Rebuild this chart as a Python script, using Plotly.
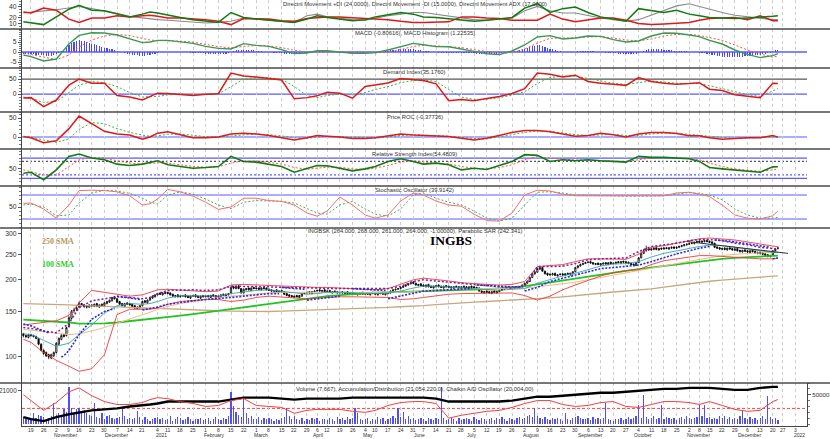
import pandas as pd
import plotly.graph_objects as go

SANS = "Liberation Sans"
SERIF = "Liberation Serif"
INK = "#303030"

# ---------------------------------------------------------------- dates
holidays = ["2020-11-11", "2020-12-24", "2020-12-25", "2020-12-31", "2021-01-01",
            "2021-01-06", "2021-04-02", "2021-04-05", "2021-05-03", "2021-06-03",
            "2021-11-01", "2021-11-11", "2021-12-24"]
days = [d.strftime("%Y-%m-%d") for d in pd.bdate_range("2020-10-14", "2021-12-22")
        if d.strftime("%Y-%m-%d") not in holidays]

# first trading day of each week (+ last day) : x of the weekly-read indicator values
weeks = ["2020-10-14", "2020-10-19", "2020-10-26", "2020-11-02", "2020-11-09", "2020-11-16",
         "2020-11-23", "2020-11-30", "2020-12-07", "2020-12-14", "2020-12-21", "2020-12-28",
         "2021-01-04", "2021-01-11", "2021-01-18", "2021-01-25", "2021-02-01", "2021-02-08",
         "2021-02-15", "2021-02-22", "2021-03-01", "2021-03-08", "2021-03-15", "2021-03-22",
         "2021-03-29", "2021-04-06", "2021-04-12", "2021-04-19", "2021-04-26", "2021-05-04",
         "2021-05-10", "2021-05-17", "2021-05-24", "2021-05-31", "2021-06-07", "2021-06-14",
         "2021-06-21", "2021-06-28", "2021-07-05", "2021-07-12", "2021-07-19", "2021-07-26",
         "2021-08-02", "2021-08-09", "2021-08-16", "2021-08-23", "2021-08-30", "2021-09-06",
         "2021-09-13", "2021-09-20", "2021-09-27", "2021-10-04", "2021-10-11", "2021-10-18",
         "2021-10-25", "2021-11-02", "2021-11-08", "2021-11-15", "2021-11-22", "2021-11-29",
         "2021-12-06", "2021-12-13", "2021-12-20", "2021-12-22"]

tick_dates = ["2020-10-19", "2020-10-26", "2020-11-02", "2020-11-09", "2020-11-16", "2020-11-23",
              "2020-11-30", "2020-12-07", "2020-12-14", "2020-12-21", "2021-01-04", "2021-01-11",
              "2021-01-18", "2021-01-25", "2021-02-01", "2021-02-08", "2021-02-15", "2021-02-22",
              "2021-03-01", "2021-03-08", "2021-03-15", "2021-03-22", "2021-03-29", "2021-04-06",
              "2021-04-12", "2021-04-19", "2021-04-26", "2021-05-04", "2021-05-10", "2021-05-17",
              "2021-05-24", "2021-05-31", "2021-06-07", "2021-06-14", "2021-06-21", "2021-06-28",
              "2021-07-05", "2021-07-12", "2021-07-19", "2021-07-26", "2021-08-02", "2021-08-09",
              "2021-08-16", "2021-08-23", "2021-08-30", "2021-09-06", "2021-09-13", "2021-09-20",
              "2021-09-27", "2021-10-04", "2021-10-11", "2021-10-18", "2021-10-25", "2021-11-02",
              "2021-11-08", "2021-11-15", "2021-11-22", "2021-11-29", "2021-12-06", "2021-12-13",
              "2021-12-20", "2021-12-27", "2022-01-03"]
tick_text = [str(pd.Timestamp(d).day) for d in tick_dates]

month_dates = ["2020-11-02", "2020-12-01", "2021-01-04", "2021-02-01", "2021-03-01", "2021-04-01",
               "2021-05-04", "2021-06-01", "2021-07-01", "2021-08-02", "2021-09-01", "2021-10-01",
               "2021-11-02", "2021-12-01", "2022-01-03"]
month_text = ["November", "December", "2021", "February", "March", "April", "May", "June", "July",
              "August", "September", "October", "November", "December", "2022"]

# ---------------------------------------------------------------- daily prices
p_open = [
    123, 121, 119,
    122, 121, 120, 118, 112,
    106, 104, 102, 99, 101,
    104, 112, 117, 122, 121,
    131, 141, 151, 153,
    156, 161, 159, 158, 156,
    159, 157, 161, 156, 160,
    158, 161, 163, 165, 171,
    168, 164, 161, 157, 162,
    161, 160, 158, 154, 155,
    158, 165, 162,
    166, 169, 171,
    174, 177, 174, 176,
    178, 177, 175, 171, 174,
    171, 172, 174, 172, 169,
    172, 174, 172, 169, 173,
    171, 173, 170, 174, 173,
    170, 171, 175, 172, 174,
    177, 187, 184, 188, 184,
    177, 182, 185, 181, 186,
    185, 185, 182, 186, 185,
    183, 182, 179, 182, 178,
    181, 179, 176, 174, 173,
    170, 173, 170, 172, 176,
    177, 179, 176, 179,
    180, 182, 179, 182,
    179, 181, 177, 180, 179,
    177, 179, 176, 179, 175,
    178, 177, 174, 175, 178,
    175, 177, 174, 178,
    177, 174, 176, 178, 174,
    176, 177, 180, 182, 183,
    184, 186, 188, 190, 192,
    195, 193, 189, 192,
    190, 187, 191, 188, 185,
    187, 190, 188, 185, 189,
    188, 187, 184, 188, 187,
    184, 188, 187, 184, 188,
    187, 186, 185, 180, 177,
    180, 179, 176, 180, 177,
    179, 181, 183, 185, 187,
    184, 185, 187, 185, 187,
    190, 193, 196, 203, 210,
    213, 219, 222, 215, 211,
    208, 208, 211, 206, 209,
    210, 207, 211, 208, 210,
    214, 222, 225, 228, 230,
    232, 234, 232, 228, 231,
    227, 229, 232, 228, 233,
    230, 230, 234, 231, 235,
    234, 233, 231, 229, 226,
    232, 242, 252, 258, 263,
    260, 261, 265, 260, 264,
    262, 265, 262, 264, 267,
    264, 266, 268, 270, 272,
    273, 276, 275, 278,
    281, 278, 280, 283,
    281, 279, 276, 267, 265,
    261, 264, 260, 265, 263,
    259, 263, 259, 255, 260,
    258, 254, 259, 257, 252,
    255, 253, 251, 249, 245,
    248, 258, 264,
]
p_high = [
    124, 122, 123,
    123, 122, 121, 118, 113,
    107, 105, 103, 103, 105,
    114, 119, 123, 123, 131,
    144, 152, 155, 157,
    164, 162, 160, 159, 160,
    160, 161, 162, 160, 161,
    163, 165, 167, 171, 172,
    169, 165, 162, 162, 163,
    162, 161, 159, 157, 159,
    165, 166, 167,
    171, 173, 175,
    177, 178, 178, 179,
    179, 178, 176, 174, 175,
    173, 174, 175, 173, 173,
    174, 175, 173, 173, 174,
    173, 174, 174, 175, 174,
    173, 175, 176, 176, 177,
    188, 189, 189, 190, 185,
    184, 185, 186, 186, 187,
    186, 186, 186, 187, 186,
    184, 183, 182, 183, 181,
    182, 180, 177, 175, 174,
    173, 174, 174, 177, 178,
    179, 180, 180, 181,
    182, 183, 182, 183,
    181, 182, 180, 181, 180,
    179, 180, 179, 180, 178,
    179, 178, 177, 178, 179,
    177, 178, 178, 179,
    178, 177, 178, 179, 177,
    178, 181, 183, 184, 185,
    187, 189, 191, 193, 196,
    197, 194, 192, 193,
    191, 191, 192, 189, 189,
    190, 191, 189, 189, 190,
    189, 188, 188, 189, 188,
    188, 189, 188, 188, 189,
    188, 187, 186, 181, 180,
    181, 180, 180, 181, 180,
    182, 184, 186, 187, 188,
    186, 187, 188, 188, 191,
    194, 198, 205, 212, 216,
    222, 224, 223, 216, 212,
    211, 212, 212, 209, 211,
    211, 211, 212, 212, 215,
    223, 227, 230, 232, 234,
    235, 236, 233, 231, 232,
    231, 232, 233, 233, 234,
    232, 234, 235, 235, 236,
    235, 234, 232, 230, 233,
    244, 256, 262, 270, 265,
    264, 266, 266, 264, 265,
    266, 267, 266, 268, 268,
    268, 270, 272, 274, 276,
    277, 279, 280, 283,
    283, 283, 284, 285,
    282, 281, 277, 268, 267,
    265, 266, 265, 266, 264,
    264, 264, 260, 260, 261,
    259, 259, 260, 258, 256,
    256, 254, 252, 250, 249,
    259, 264, 268,
]
p_low = [
    119, 118, 118,
    120, 119, 117, 111, 105,
    102, 100, 98, 98, 100,
    103, 111, 116, 119, 120,
    130, 140, 148, 151,
    155, 157, 155, 154, 155,
    156, 156, 156, 155, 157,
    157, 160, 162, 164, 167,
    162, 159, 157, 156, 159,
    158, 156, 153, 153, 154,
    157, 162, 161,
    165, 168, 170,
    173, 174, 173, 175,
    175, 173, 171, 170, 170,
    170, 171, 170, 169, 168,
    171, 170, 169, 168, 170,
    170, 170, 169, 171, 169,
    169, 170, 172, 171, 173,
    176, 183, 183, 183, 176,
    176, 181, 181, 180, 183,
    183, 182, 181, 183, 181,
    180, 179, 178, 178, 177,
    177, 174, 172, 171, 170,
    169, 170, 169, 171, 175,
    176, 176, 175, 178,
    179, 179, 178, 178,
    178, 177, 176, 177, 176,
    176, 176, 175, 175, 174,
    175, 174, 173, 174, 174,
    174, 174, 173, 175,
    174, 173, 175, 174, 173,
    175, 176, 179, 181, 182,
    183, 185, 187, 189, 191,
    192, 189, 188, 188,
    187, 186, 186, 185, 184,
    186, 186, 185, 184, 186,
    185, 184, 183, 185, 184,
    183, 185, 184, 183, 185,
    184, 183, 179, 177, 176,
    177, 176, 175, 177, 176,
    178, 180, 182, 184, 183,
    183, 184, 184, 184, 186,
    189, 192, 195, 202, 208,
    212, 217, 214, 209, 206,
    206, 207, 206, 205, 207,
    206, 206, 208, 207, 209,
    213, 220, 224, 227, 229,
    231, 230, 228, 227, 227,
    226, 228, 228, 227, 229,
    229, 229, 231, 230, 232,
    231, 229, 227, 225, 225,
    231, 241, 250, 256, 258,
    258, 259, 259, 258, 260,
    260, 262, 260, 262, 262,
    262, 264, 266, 268, 270,
    272, 273, 273, 276,
    277, 276, 278, 278,
    276, 274, 264, 262, 260,
    259, 259, 258, 260, 258,
    257, 256, 254, 254, 255,
    253, 252, 254, 251, 250,
    250, 248, 246, 243, 243,
    246, 256, 261,
]
p_close = [
    121, 120, 122,
    121, 120, 118, 112, 106,
    103, 101, 100, 102, 104,
    113, 118, 121, 120, 130,
    142, 150, 152, 155,
    162, 158, 157, 156, 159,
    158, 160, 157, 159, 158,
    162, 164, 166, 170, 168,
    163, 160, 158, 161, 160,
    159, 157, 155, 156, 158,
    164, 163, 166,
    170, 172, 174,
    176, 175, 177, 178,
    176, 174, 172, 173, 171,
    172, 173, 171, 170, 172,
    173, 171, 170, 172, 171,
    172, 171, 173, 172, 170,
    172, 174, 173, 175, 176,
    186, 185, 187, 184, 177,
    183, 184, 182, 185, 184,
    184, 183, 185, 184, 182,
    181, 180, 181, 179, 180,
    178, 175, 173, 172, 171,
    172, 171, 173, 176, 177,
    178, 177, 179, 180,
    181, 180, 181, 179,
    180, 178, 179, 178, 177,
    178, 177, 178, 176, 177,
    176, 175, 176, 177, 175,
    176, 175, 177, 176,
    175, 176, 177, 175, 176,
    177, 180, 182, 183, 184,
    186, 188, 190, 192, 194,
    193, 190, 191, 189,
    188, 190, 187, 186, 188,
    189, 187, 186, 188, 187,
    186, 185, 187, 186, 185,
    187, 186, 185, 187, 186,
    185, 184, 180, 178, 179,
    178, 177, 179, 178, 179,
    181, 183, 185, 186, 184,
    185, 186, 185, 187, 190,
    193, 196, 203, 210, 213,
    220, 222, 215, 210, 208,
    209, 210, 207, 208, 209,
    208, 210, 209, 211, 214,
    222, 225, 228, 230, 232,
    233, 231, 229, 230, 228,
    230, 231, 229, 232, 230,
    231, 233, 232, 234, 233,
    232, 230, 228, 227, 232,
    242, 252, 258, 262, 260,
    262, 264, 261, 263, 262,
    264, 263, 265, 266, 264,
    266, 268, 270, 272, 273,
    275, 276, 278, 280,
    279, 281, 282, 280,
    278, 276, 266, 264, 262,
    263, 261, 264, 262, 260,
    262, 258, 256, 259, 257,
    255, 258, 256, 253, 254,
    252, 250, 248, 246, 247,
    258, 262, 264,
]
# daily volume, thousands of shares
volume_k = [
    12, 8, 10,
    9, 18, 11, 15, 13,
    12, 8, 10, 14, 36,
    16, 19, 14, 25, 20,
    64, 28, 18, 26,
    28, 20, 24, 18, 16,
    14, 36, 12, 10, 18,
    9, 14, 16, 11, 8,
    10, 12, 28, 13, 9,
    11, 8, 10, 22, 12,
    7, 12, 9,
    6, 8, 10,
    12, 9, 11, 7,
    8, 14, 6, 9, 12,
    10, 7, 9, 12, 8,
    6, 9, 8, 11, 7,
    8, 10, 6, 9, 12,
    9, 7, 11, 8, 14,
    55, 31, 20, 16, 12,
    42, 18, 10, 14, 9,
    8, 12, 7, 10, 9,
    11, 8, 6, 9, 7,
    10, 12, 28, 14, 9,
    13, 8, 7, 10, 6,
    9, 7, 11, 8,
    10, 6, 8, 9,
    7, 11, 9, 6, 12,
    8, 10, 7, 12, 9,
    11, 28, 18, 9, 7,
    8, 10, 6, 9,
    7, 12, 8, 10, 6,
    9, 11, 14, 10, 28,
    12, 20, 9, 14, 8,
    10, 7, 9, 11,
    8, 6, 10, 9, 7,
    11, 8, 64, 10, 7,
    9, 12, 8, 6, 10,
    7, 9, 11, 8, 6,
    12, 9, 7, 10, 8,
    6, 9, 11, 7, 10,
    8, 12, 9, 6, 11,
    9, 7, 10, 12, 8,
    11, 14, 16, 12, 28,
    13, 10, 9, 12, 8,
    7, 10, 9, 11, 8,
    6, 18, 9, 7, 10,
    12, 14, 11, 9, 8,
    10, 7, 12, 9, 11,
    8, 10, 36, 9, 7,
    6, 9, 8, 11, 7,
    9, 12, 8, 10, 14,
    33, 11, 50, 12, 9,
    10, 13, 8, 11, 33,
    9, 12, 10, 8, 11,
    7, 10, 12, 9, 13,
    11, 8, 10, 12,
    33, 14, 33, 10,
    12, 9, 11, 8, 13,
    10, 14, 9, 12, 8,
    11, 9, 13, 22, 10,
    8, 12, 9, 11, 7,
    10, 13, 9, 47, 12,
    9, 10, 7.667,
]
macd_hist = [
    -0.8, -0.9, -1.0,
    -1.1, -1.2, -1.3, -1.5, -1.6,
    -1.7, -1.8, -1.9, -1.9, -1.7,
    -1.2, -0.6, 0.3, 1.2, 2.2,
    3.5, 4.5, 5.2, 5.6,
    5.8, 5.6, 5.3, 5.0, 4.6,
    4.2, 3.8, 3.4, 3.0, 2.6,
    2.2, 1.9, 1.6, 1.3, 1.0,
    0.6, 0.2, -0.2, -0.5, -0.8,
    -1.1, -1.3, -1.5, -1.7, -1.8,
    -1.9, -1.8, -1.6,
    -1.3, -1.0, -0.8,
    -0.5, -0.2, 0.0, 0.1,
    0.2, 0.2, 0.1, 0.1, 0.0,
    -0.1, -0.1, -0.2, -0.2, -0.3,
    -0.4, -0.5, -0.5, -0.6, -0.7,
    -0.8, -0.9, -0.9, -1.0, -1.0,
    -1.0, -0.9, -0.9, -0.8, -0.6,
    0.2, 0.6, 0.9, 1.1, 0.9,
    1.0, 1.1, 1.0, 0.9, 0.8,
    0.6, 0.5, 0.3, 0.2, 0.0,
    -0.1, -0.2, -0.3, -0.4, -0.5,
    -0.6, -0.8, -1.0, -1.1, -1.2,
    -1.2, -1.1, -1.0, -0.8, -0.6,
    -0.5, -0.3, -0.2, 0.0,
    0.2, 0.3, 0.4, 0.4,
    0.4, 0.3, 0.2, 0.1, 0.0,
    -0.1, -0.2, -0.3, -0.3, -0.4,
    -0.4, -0.4, -0.4, -0.3, -0.3,
    -0.2, -0.2, -0.1, -0.1,
    0.0, 0.1, 0.2, 0.3, 0.4,
    0.6, 0.8, 1.0, 1.2, 1.3,
    1.4, 1.5, 1.6, 1.6, 1.6,
    1.5, 1.2, 1.0, 0.8,
    0.6, 0.5, 0.3, 0.1, 0.0,
    -0.2, -0.3, -0.4, -0.4, -0.5,
    -0.5, -0.6, -0.6, -0.6, -0.6,
    -0.6, -0.6, -0.6, -0.6, -0.7,
    -0.7, -0.8, -0.9, -1.0, -1.0,
    -1.0, -1.0, -0.9, -0.9, -0.8,
    -0.7, -0.5, -0.3, -0.1, 0.1,
    0.3, 0.5, 0.7, 0.9, 1.1,
    1.4, 1.8, 2.3, 2.8, 3.2,
    3.4, 3.3, 2.9, 2.4, 2.0,
    1.6, 1.3, 1.0, 0.7, 0.4,
    0.2, 0.0, -0.1, -0.2, -0.1,
    0.2, 0.4, 0.6, 0.7, 0.7,
    0.6, 0.5, 0.4, 0.2, 0.1,
    -0.1, -0.2, -0.3, -0.4, -0.5,
    -0.6, -0.7, -0.8, -0.8, -0.8,
    -0.9, -1.0, -1.1, -1.0, -0.9,
    -0.5, 0.0, 0.5, 1.0, 1.3,
    1.4, 1.5, 1.5, 1.4, 1.3,
    1.2, 1.1, 1.0, 0.8, 0.7,
    0.6, 0.5, 0.4, 0.4, 0.3,
    0.2, 0.1, 0.0, -0.1,
    -0.3, -0.5, -0.7, -0.9,
    -1.1, -1.3, -1.6, -1.9, -2.1,
    -2.3, -2.4, -2.5, -2.5, -2.5,
    -2.4, -2.4, -2.3, -2.3, -2.2,
    -2.1, -2.0, -1.8, -1.7, -1.5,
    -1.3, -1.1, -0.8, -0.6, -0.3,
    0.3, 0.8, 1.22535,
]

# ---------------------------------------------------------------- weekly-read indicator values
di_plus = [13, 11, 8, 22, 36, 43, 34, 33, 27, 22, 27, 31, 29, 25, 21, 17, 14, 12, 30, 21,
           18, 16, 13, 12, 18, 24, 21, 18, 15, 17, 22, 26, 30, 27, 22, 21, 19, 16, 14, 16,
           18, 21, 38, 46, 30, 37, 40, 30, 22, 18, 14, 37, 34, 30, 34, 27, 24, 21, 20, 19,
           20, 21, 23, 24]
di_minus = [31, 29, 38, 34, 18, 12, 20, 20, 24, 22, 24, 25, 23, 20, 20, 19, 17, 14, 8, 19,
            19, 18, 15, 14, 19, 21, 22, 22, 20, 19, 18, 17, 14, 12, 12, 12, 13, 22, 22, 20,
            19, 16, 16, 16, 27, 18, 13, 17, 20, 20, 16, 10, 8, 9, 10, 12, 16, 19, 20, 21,
            17, 24, 15, 15]
adx = [29, 30, 33, 35, 39, 41, 37, 33, 28, 23, 20, 18, 17, 16, 14, 12, 11, 12, 14, 20,
       18, 16, 13, 12, 24, 27, 22, 19, 17, 16, 20, 24, 27, 30, 30, 27, 24, 20, 17, 16,
       18, 20, 33, 41, 33, 29, 29, 24, 20, 17, 14, 17, 25, 33, 42, 46, 41, 35, 30, 25,
       22, 19, 17, 17]
macd = [-1.5, -2.3, -4.5, -3.5, 4, 8.3, 9.6, 9.5, 8.5, 6.5, 4.7, 5, 5.8, 5.8, 5.2, 4.3, 2.8, 1.8, 1.5, 4.2,
        3.3, 2.8, 1.2, -0.8, -0.5, 0.6, 0.6, -0.2, -0.7, -0.6, -0.3, 1, 2.5, 4.3, 3.6, 2.7, 2.6, 1.6, 0.3, -0.9,
        -1.3, 0.5, 3.5, 7.5, 8.2, 6.5, 7, 8, 7.8, 6.2, 5, 5.5, 8, 9.5, 9.4, 8.5, 7.7, 5.8, 4, 1,
        -1.2, -2.8, -1.8, -0.80616]
macd_signal = [-0.5, -1.2, -2.6, -3.8, -1.5, 2.5, 6, 8, 8.8, 8.2, 6.8, 6, 5.7, 5.6, 5.4, 4.9, 3.8, 2.7, 2, 2.8,
               3.2, 3, 2.2, 0.8, 0, 0.1, 0.4, 0.2, -0.3, -0.5, -0.5, 0, 1.2, 2.8, 3.3, 3.1, 2.8, 2.2, 1.2, 0.1,
               -0.7, -0.3, 1.5, 4.5, 6.8, 7, 7, 7.5, 7.7, 7, 6, 5.6, 6.5, 8, 8.8, 8.8, 8.3, 7.2, 5.8, 3.5,
               1, -1, -2.6, -2.03]
demand = [-13, -12, -42, -20, 30, 50, 36, 36, -5, -10, -20, -8, 3, 2, -1, -5, -1, 1, 70, 60,
          57, 52, 47, -16, -12, -6, 6, 3, -14, 25, 31, 37, 52, 48, 45, 34, -22, -18, -22, -15,
          -8, 2, 18, 70, 66, 57, 63, 42, 36, 33, 29, 55, 42, 36, 33, 35, 38, 16, 12, -2,
          -7, -12, 36, 35.176]
demand_signal = [-10, -14, -28, -25, 5, 30, 42, 38, 25, 5, -10, -10, -8, -3, 0, -2, -2, 0, 25, 50,
                 55, 54, 50, 25, -5, -12, -5, 0, -3, 5, 15, 25, 38, 45, 47, 42, 15, -10, -18, -18,
                 -12, -4, 8, 35, 55, 60, 60, 52, 42, 36, 32, 38, 44, 40, 36, 35, 35, 28, 18, 8,
                 -2, -8, 10, 18]
roc = [1, -2, -15, -10, 22, 55, 35, 15, 8, 5, -6, 0, 10, 14, 6, -2, -2, 0, 8, 10,
       8, 4, -2, -8, -2, 4, 2, 0, -4, -4, -2, 3, 8, 5, 4, 2, 1, -3, -8, -3,
       5, 12, 17, 17, 14, 8, 2, 4, 10, 6, 0, 8, 12, 12, 9, 3, 3, -2, -6, -4,
       -2, -2, 4, -0.377]
roc_signal = [2, 0, -8, -14, -5, 20, 38, 35, 22, 12, 5, 2, 3, 7, 8, 4, 1, 0, 3, 6,
              8, 6, 3, -2, -4, 0, 2, 1, -1, -3, -3, 0, 4, 6, 5, 3, 2, -1, -4, -5,
              0, 6, 12, 16, 15, 11, 6, 4, 6, 7, 4, 4, 8, 10, 10, 7, 5, 2, -2, -4,
              -3, -2, 0, 0.5]
rsi = [35, 38, 16, 45, 85, 92, 80, 75, 62, 58, 62, 68, 72, 60, 55, 50, 52, 55, 85, 70,
       68, 62, 55, 38, 50, 58, 57, 50, 42, 48, 55, 70, 78, 70, 62, 65, 60, 45, 50, 46,
       58, 70, 90, 88, 70, 75, 72, 75, 72, 70, 68, 85, 82, 82, 80, 78, 70, 52, 48, 44,
       40, 38, 54, 54.48]
rsi_signal = [45, 40, 30, 30, 55, 75, 82, 80, 72, 65, 62, 63, 66, 65, 60, 55, 53, 54, 65, 72,
              72, 68, 62, 52, 47, 50, 53, 53, 48, 46, 50, 58, 68, 72, 68, 65, 63, 55, 50, 48,
              52, 60, 75, 84, 80, 76, 74, 74, 73, 72, 70, 75, 80, 82, 81, 79, 75, 65, 55, 48,
              44, 41, 45, 48]
stoch_k = [59, 60, 45, 22, 55, 91, 92, 91, 88, 78, 55, 58, 70, 94, 88, 77, 62, 44, 50, 72,
           72, 66, 64, 55, 35, 27, 40, 75, 55, 30, 22, 30, 65, 85, 80, 65, 55, 52, 32, 16,
           15, 35, 80, 92, 90, 82, 78, 78, 77, 78, 77, 77, 77, 78, 85, 87, 82, 76, 55, 30,
           22, 20, 28, 39.91]
stoch_d = [55, 57, 50, 28, 30, 60, 85, 92, 90, 84, 72, 62, 58, 80, 88, 82, 70, 55, 46, 62,
           66, 65, 64, 60, 45, 35, 32, 55, 64, 45, 32, 27, 45, 80, 85, 72, 62, 55, 40, 22,
           15, 22, 55, 87, 88, 85, 80, 79, 78, 78, 77, 77, 78, 78, 82, 86, 84, 80, 68, 45,
           30, 22, 22, 24]
sma250 = [161, 160.5, 160, 159.5, 159, 158.5, 158, 157.5, 157, 156, 155, 154.5, 154, 153.5, 152.5, 152,
          151.5, 151, 150.5, 150, 150, 150, 150.5, 151, 151.5, 152, 152.5, 153, 153.5, 154.5, 155, 155.5,
          156.5, 157, 158, 159.5, 161, 162, 163, 164, 165, 165.8, 166.5, 168, 169.5, 171, 172.5, 174.5,
          176.5, 178.5, 180, 181.5, 183.5, 186.5, 189.5, 192, 194.5, 196.5, 198.5, 200.5, 202.5, 204,
          205.5, 206]
sma100 = [139.5, 139, 138, 137, 136, 134.5, 134.5, 135, 136, 137.5, 139.5, 140.5, 141.5, 143, 144.5, 146.5,
          148.5, 150.5, 153, 155.5, 158, 160.5, 163, 165.5, 168, 170, 172, 173.5, 175, 176.5, 177.5, 178,
          178.5, 179, 179.5, 180, 180.5, 181, 181.5, 183, 184.5, 186, 188, 191, 194.5, 198, 201.5, 205,
          208.5, 212, 215.5, 219, 222, 225.5, 229, 232, 235, 237.5, 240, 242, 244, 245.5, 246.5, 247]
sma50 = [128, 127, 125, 123, 122, 123, 126, 130, 135, 140, 145, 149, 153, 157, 161, 164, 167, 170, 172, 174,
         176, 177, 178, 178, 178, 178, 178, 178, 178, 177, 177, 177, 178, 179, 181, 182, 183, 184, 184, 184,
         184, 184, 185, 187, 189, 192, 195, 199, 203, 207, 211, 215, 220, 225, 230, 235, 239, 243, 247, 250,
         252, 253, 254, 254]
bb_upper = [133, 134, 136, 138, 145, 162, 181, 178, 176, 172, 174, 178, 182, 183, 182, 180, 179, 180, 190, 191,
            190, 189, 188, 187, 186, 186, 186, 185, 183, 182, 182, 184, 192, 199, 202, 200, 197, 194, 192, 191,
            190, 191, 196, 224, 226, 228, 234, 240, 240, 239, 239, 250, 266, 270, 276, 282, 287, 289, 287, 284,
            279, 274, 268, 267]
bb_lower = [117, 114, 104, 97, 92, 88, 90, 102, 146, 153, 153, 153, 155, 160, 164, 166, 167, 167, 164, 166,
            170, 172, 171, 169, 168, 169, 170, 171, 171, 171, 171, 170, 167, 168, 170, 173, 175, 176, 176, 176,
            176, 177, 173, 166, 172, 182, 190, 198, 206, 212, 216, 218, 228, 236, 240, 244, 247, 247, 245, 243,
            241, 240, 240, 241]
bb_mid = [123, 122, 116, 110, 113, 122, 133, 148, 158, 161, 160, 161, 164, 169, 173, 173, 172, 172, 176, 179,
          181, 182, 180, 177, 175, 176, 178, 178, 177, 176, 176, 177, 180, 185, 188, 188, 187, 186, 184, 182,
          181, 183, 184, 193, 200, 206, 211, 218, 225, 229, 230, 234, 244, 252, 258, 263, 268, 271, 270, 266,
          262, 257, 254, 254]
channel_top = [130, 129, 126, 124, 135, 155, 165, 168, 171, 170, 168, 170, 176, 181, 182, 182, 181, 182, 188, 188,
               187, 187, 186, 186, 185, 185, 184, 184, 183, 183, 183, 184, 188, 196, 199, 197, 195, 193, 191, 188,
               186, 185, 188, 224, 224, 225, 230, 238, 240, 241, 242, 256, 268, 272, 276, 282, 285, 285, 282, 276,
               272, 266, 262, 262]
acc_dist_k = [18489, 18303, 18117, 18489, 18768, 18954, 19140, 19233, 19326, 19512,
              19605, 19698, 19791, 19977, 19977, 19977, 19977, 19977, 20163, 20349,
              20349, 20349, 20256, 20163, 20256, 20256, 20256, 20256, 20349, 20349,
              20349, 20349, 20349, 20349, 20349, 20256, 19977, 19977, 19977, 19977,
              19977, 20070, 20256, 20442, 20442, 20535, 20628, 20721, 20814, 20814,
              20907, 21000, 21093, 21186, 21186, 21279, 21279, 21279, 21186, 21093,
              21093, 21279, 21372, 21372]
chaikin = [30800, 17600, -4400, 13200, 37400, 46200, 28600, 15400, 8800, 8800,
           13200, 19800, 24200, 22000, 15400, 11000, 4400, 6600, 17600, 22000,
           6600, 4400, 2200, -11000, -4400, -2200, -2200, -2200, -6600, -8800,
           -4400, 6600, 13200, 15400, 15400, 11000, -22000, -15400, -11000, -6600,
           -4400, 2200, 11000, 17600, 17600, 8800, 4400, 6600, 13200, 15400,
           4400, 2200, 8800, 15400, 15400, 13200, 8800, 15400, 6600, -2200,
           -6600, -4400, 15400, 20004]

sar_dates = ["2020-10-14", "2020-10-19", "2020-10-26", "2020-10-28", None,
             "2020-11-04", "2020-11-05", "2020-11-09", "2020-11-16", "2020-11-23", "2020-11-30", "2020-12-04", None,
             "2020-12-07", "2020-12-14", "2020-12-18", None,
             "2020-12-21", "2021-01-04", "2021-01-11", "2021-01-18", "2021-01-25", "2021-02-01", "2021-02-08",
             "2021-02-15", "2021-02-22", "2021-03-01", "2021-03-08", "2021-03-12", None,
             "2021-03-15", "2021-03-22", "2021-03-26", None,
             "2021-03-29", "2021-04-06", "2021-04-12", "2021-04-19", None,
             "2021-04-26", "2021-05-04", "2021-05-10", "2021-05-14", None,
             "2021-05-17", "2021-05-24", "2021-05-31", "2021-06-07", "2021-06-14", "2021-06-21", "2021-06-28",
             "2021-07-02", None,
             "2021-07-06", "2021-07-12", "2021-07-19", "2021-07-26", "2021-07-30", None,
             "2021-08-02", "2021-08-09", "2021-08-16", "2021-08-23", "2021-08-30", "2021-09-06", "2021-09-13",
             "2021-09-20", "2021-09-27", "2021-10-04", "2021-10-11", "2021-10-18", "2021-10-25", "2021-11-02",
             "2021-11-08", "2021-11-15", None,
             "2021-11-17", "2021-11-22", "2021-11-29", "2021-12-06", "2021-12-13", "2021-12-17", None,
             "2021-12-20", "2021-12-22"]
sar_values = [134, 132, 126, 124, None,
              100, 101, 106, 122, 140, 150, 154, None,
              172, 169, 167, None,
              152, 156, 160, 163, 165, 167, 168, 170, 172, 174, 176, 176, None,
              186, 184, 183, None,
              166, 168, 170, 172, None,
              184, 183, 182, 181, None,
              168, 172, 176, 180, 181, 182, 183, 184, None,
              190, 189, 188, 187, 187, None,
              180, 186, 196, 202, 208, 214, 220, 222, 224, 227, 234, 243, 251, 258, 264, 268, None,
              284, 283, 279, 274, 269, 266, None,
              240, 242.341]
trend_dates = ["2021-10-29", "2021-12-29"]
trend_values = [280, 252]

for nm, arr in [("o", p_open), ("h", p_high), ("l", p_low), ("c", p_close), ("v", volume_k),
                ("hist", macd_hist)]:
    assert len(arr) == len(days), (nm, len(arr), len(days))
for nm, arr in [("dip", di_plus), ("dim", di_minus), ("adx", adx), ("macd", macd), ("sig", macd_signal),
                ("dem", demand), ("dems", demand_signal), ("roc", roc), ("rocs", roc_signal), ("rsi", rsi),
                ("rsis", rsi_signal), ("k", stoch_k), ("d", stoch_d), ("s250", sma250), ("s100", sma100),
                ("s50", sma50), ("bbu", bb_upper), ("bbl", bb_lower), ("bbm", bb_mid), ("ch", channel_top),
                ("ad", acc_dist_k), ("chk", chaikin)]:
    assert len(arr) == len(weeks), (nm, len(arr), len(weeks))
assert len(sar_dates) == len(sar_values)

# ---------------------------------------------------------------- geometry (px of the 830x439 canvas)
W, H = 830, 439
ML, MR, MT, MB = 22, 23, 0, 13
PW, PH = W - ML - MR, H - MT - MB
edges = [0, 29, 68, 112, 149, 186, 228, 383, 426]


def ypap(px):
    return (PH - (px - MT)) / PH


def xpap(px):
    return (px - ML) / PW


xr = ["2020-10-13 10:48", "2022-01-07 12:00"]
rb = [dict(bounds=["sat", "mon"]), dict(values=holidays)]

panels = [
    dict(rng=[0, 52.7], tv=[10, 20, 40], mdt=5),
    dict(rng=[-8, 11.5], tv=[-5, 0, 5], mdt=1),
    dict(rng=[-60, 87], tv=[0, 50], mdt=10),
    dict(rng=[-31.6, 65.8], tv=[0, 50], mdt=10),
    dict(rng=[-2.7, 106.8], tv=[50], mdt=10),
    dict(rng=[-2.5, 102.5], tv=[50], mdt=10),
    dict(rng=[1.899, 2.4997], tv=[100, 150, 200, 250, 300], mdt=None, log=True),
]


def sfx(i):
    return "" if i == 1 else str(i)


TICKFONT = dict(family=SANS, size=6.8, color=INK)
AXCOMMON = dict(ticks="outside", ticklen=3, tickcolor="#555555", ticklabeloverflow="allow",
                showgrid=False, zeroline=False, showline=True, linecolor="#444444", linewidth=1,
                fixedrange=True, tickmode="array")
lay = dict(width=W, height=H, margin=dict(l=ML, r=MR, t=MT, b=MB), paper_bgcolor="white",
           plot_bgcolor="white", showlegend=False, font=dict(family=SANS, size=7, color=INK),
           bargap=0)
for i in range(1, 9):
    s = sfx(i)
    xa = dict(domain=[0, 1], anchor="y" + s, type="date", range=xr, rangebreaks=rb,
              tickmode="array", tickvals=tick_dates, showticklabels=False,
              ticks="", showgrid=True, gridcolor="#cdcdcd", griddash="dot",
              gridwidth=1, zeroline=False, showline=(i == 8), linecolor="#444444", linewidth=1,
              rangeslider=dict(visible=False))
    if i > 1:
        xa["matches"] = "x"
    lay["xaxis" + s] = xa
    dom = [ypap(edges[i]), ypap(edges[i - 1])]
    if i <= 7:
        p = panels[i - 1]
        ya = dict(domain=dom, anchor="x" + s, range=p["rng"], tickvals=p["tv"],
                  ticktext=[str(v) for v in p["tv"]], tickfont=TICKFONT, **AXCOMMON)
        if p.get("log"):
            ya["type"] = "log"
        if p["mdt"]:
            ya["minor"] = dict(tickmode="linear", dtick=p["mdt"], tick0=0, ticks="outside", ticklen=2,
                               tickcolor="#777777")
        yr = {k: v for k, v in ya.items() if k != "domain"}
        yr.update(overlaying="y" + s, side="right")
        lay["yaxis" + s] = ya
        lay["yaxis" + str(10 + i)] = yr

# volume panel: volume scale on the right (base), A/D scale on the left, Chaikin scale hidden
lay["yaxis8"] = dict(domain=[ypap(edges[8]), ypap(edges[7])], anchor="x8", side="right",
                     range=[-3333, 70000], tickvals=[50000], ticktext=["50000"],
                     tickfont=dict(family=SANS, size=6.2, color=INK),
                     minor=dict(tickmode="linear", dtick=10000, tick0=0, ticks="outside", ticklen=2,
                                tickcolor="#777777"),
                     **AXCOMMON)
lay["yaxis18"] = dict(overlaying="y8", side="left", anchor="x8", range=[17652, 21744], tickvals=[21000],
                      ticktext=["21000"], tickfont=dict(family=SANS, size=6.4, color=INK), **AXCOMMON)
lay["yaxis19"] = dict(overlaying="y8", anchor="x8", range=[-39600, 57200], visible=False)

fig = go.Figure(layout=lay)


def add_line(x, y, panel, color, width=1.0, dash=None, yaxis=None, mode="lines"):
    s = sfx(panel)
    fig.add_trace(go.Scatter(x=x, y=y, mode=mode, line=dict(color=color, width=width, dash=dash),
                             xaxis="x" + s, yaxis=yaxis or ("y" + s), hoverinfo="skip",
                             showlegend=False, connectgaps=False))


shapes = []


def hline(panel, v, color, width=1.0, dash=None, yaxis=None):
    s = sfx(panel)
    shapes.append(dict(type="line", xref="x" + s + " domain", x0=0, x1=1, yref=yaxis or ("y" + s),
                       y0=v, y1=v, line=dict(color=color, width=width, dash=dash), layer="below"))


BLUE = "#5a5aff"
RED = "#e01818"
GREEN = "#127a12"

# 1 DMI
add_line(weeks, adx, 1, "#8a8a8a", 1.1)
add_line(weeks, di_minus, 1, RED, 1.5)
add_line(weeks, di_plus, 1, GREEN, 1.5)
# 2 MACD
hline(2, 0, BLUE, 1.6)
fig.add_trace(go.Bar(x=days, y=macd_hist, marker=dict(color="#4848ff", line=dict(width=0)),
                     width=0.45 * 86400000, xaxis="x2", yaxis="y2", hoverinfo="skip"))
add_line(weeks, macd_signal, 2, "#ff5050", 1.0, "2px,2px")
add_line(weeks, macd, 2, "#3a9a52", 1.4)
# 3 Demand index
hline(3, 0, BLUE, 1.2)
hline(3, 50, "#555555", 1.2)
add_line(weeks, demand_signal, 3, "#3cb043", 1.0, "2px,2px")
add_line(weeks, demand, 3, RED, 1.5)
# 4 Price ROC
hline(4, 0, BLUE, 1.2)
add_line(weeks, roc_signal, 4, "#3cb043", 1.0, "2px,2px")
add_line(weeks, roc, 4, RED, 1.5)
# 5 RSI
hline(5, 80, BLUE, 1.2)
hline(5, 20, BLUE, 1.2)
hline(5, 70, "#555555", 1.2, "2px,2px")
hline(5, 30, BLUE, 1.2, "2px,2px")
add_line(weeks, rsi_signal, 5, "#ff5050", 1.0, "2px,2px")
add_line(weeks, rsi, 5, GREEN, 1.6)
# 6 Stochastic
hline(6, 80, BLUE, 1.2)
hline(6, 20, BLUE, 1.2)
add_line(weeks, stoch_d, 6, "#3cb060", 1.0, "2px,2px")
add_line(weeks, stoch_k, 6, "#ff6a6a", 1.0)
# 7 Price
add_line(weeks, sma250, 7, "#c9a77c", 1.3)
add_line(weeks, sma100, 7, "#22c422", 1.8)
add_line(weeks, sma50, 7, "#f6b98a", 1.0)
add_line(weeks, bb_upper, 7, "#f03a3a", 0.9)
add_line(weeks, bb_lower, 7, "#f03a3a", 0.9)
add_line(weeks, bb_mid, 7, "#3aa3a3", 0.9)
add_line(weeks, channel_top, 7, "#7a1fa2", 1.5, "2px,2px")
add_line(sar_dates, sar_values, 7, "#2a2ae0", 1.6, "2px,1.5px")
fig.add_trace(go.Candlestick(x=days, open=p_open, high=p_high, low=p_low, close=p_close,
                             xaxis="x7", yaxis="y7", whiskerwidth=0, hoverinfo="skip",
                             increasing=dict(line=dict(color="#000000", width=0.8), fillcolor="#ffffff"),
                             decreasing=dict(line=dict(color="#000000", width=0.8), fillcolor="#000000")))
add_line(trend_dates, trend_values, 7, "#333333", 1.0)
# 8 Volume, A/D, Chaikin
fig.add_trace(go.Bar(x=days, y=[v * 1000 for v in volume_k],
                     marker=dict(color="#5050f0", line=dict(width=0)),
                     width=0.5 * 86400000, xaxis="x8", yaxis="y8", hoverinfo="skip"))
hline(8, 0, "#ff4040", 1.0, "3px,2px", yaxis="y19")
add_line(weeks, chaikin, 8, "#f04040", 1.0, yaxis="y19")
add_line(weeks, acc_dist_k, 8, "#000000", 2.4, yaxis="y18")

# panel separators across the whole width
for e in edges[1:-1]:
    shapes.append(dict(type="line", xref="paper", yref="paper", x0=xpap(0), x1=xpap(W),
                       y0=ypap(e), y1=ypap(e), line=dict(color="#4a4a4a", width=1.5), layer="above"))

annos = []
titles = [
    (4.5, "Directnl Movement +DI (24.0000), Directnl Movement -DI (15.0000), Directnl Movement ADX (17.0000)"),
    (33.5, "MACD (-0.80616), MACD Histogram (1.22535)"),
    (72.5, "Demand Index(35.1760)"),
    (116.5, "Price ROC (-0.37736)"),
    (153.5, "Relative Strength Index(54.4809)"),
    (190.5, "Stochastic Oscillator (39.9142)"),
    (231.3, "INGBSK (264.000, 268.000, 261.000, 264.000, -1.00000), Parabolic SAR (242.341)"),
    (388.5, "Volume (7,667), Accumulation/Distribution (21,054,220.0), Chaikin A/D Oscillator (20,004.00)"),
]
for ypx, t in titles:
    annos.append(dict(text=t, xref="paper", yref="paper", x=0.5, y=ypap(ypx), xanchor="center",
                      yanchor="middle", showarrow=False, font=dict(family=SANS, size=5.8, color=INK)))
annos.append(dict(text="<b>INGBS</b>", xref="paper", yref="paper", x=xpap(451), y=ypap(240.5),
                  xanchor="center", yanchor="middle", showarrow=False,
                  font=dict(family=SERIF, size=13.5, color="#000000")))
annos.append(dict(text="<b>250 SMA</b>", xref="paper", yref="paper", x=xpap(40), y=ypap(241.5),
                  xanchor="left", yanchor="middle", showarrow=False,
                  font=dict(family=SERIF, size=8, color="#b59a55")))
annos.append(dict(text="<b>100 SMA</b>", xref="paper", yref="paper", x=xpap(40), y=ypap(264.5),
                  xanchor="left", yanchor="middle", showarrow=False,
                  font=dict(family=SERIF, size=8, color="#2ccc2c")))
# date axis: week-day row and month row
for d, t in zip(tick_dates, tick_text):
    annos.append(dict(text=t, xref="x8", yref="paper", x=d, y=ypap(426.2), xanchor="center",
                      yanchor="top", borderpad=0, showarrow=False,
                      font=dict(family=SANS, size=5.0, color=INK)))
for d, t in zip(month_dates, month_text):
    annos.append(dict(text=t, xref="x8", yref="paper", x=d, y=ypap(439), xanchor="left", xshift=-3,
                      yanchor="bottom", borderpad=0, showarrow=False,
                      font=dict(family=SANS, size=5.0, color=INK)))

fig.update_layout(shapes=shapes, annotations=annos)
fig.write_html("out.html", config=dict(displayModeBar=False, staticPlot=True),
               post_script="document.body.style.margin='0px';document.body.style.overflow='hidden';")
